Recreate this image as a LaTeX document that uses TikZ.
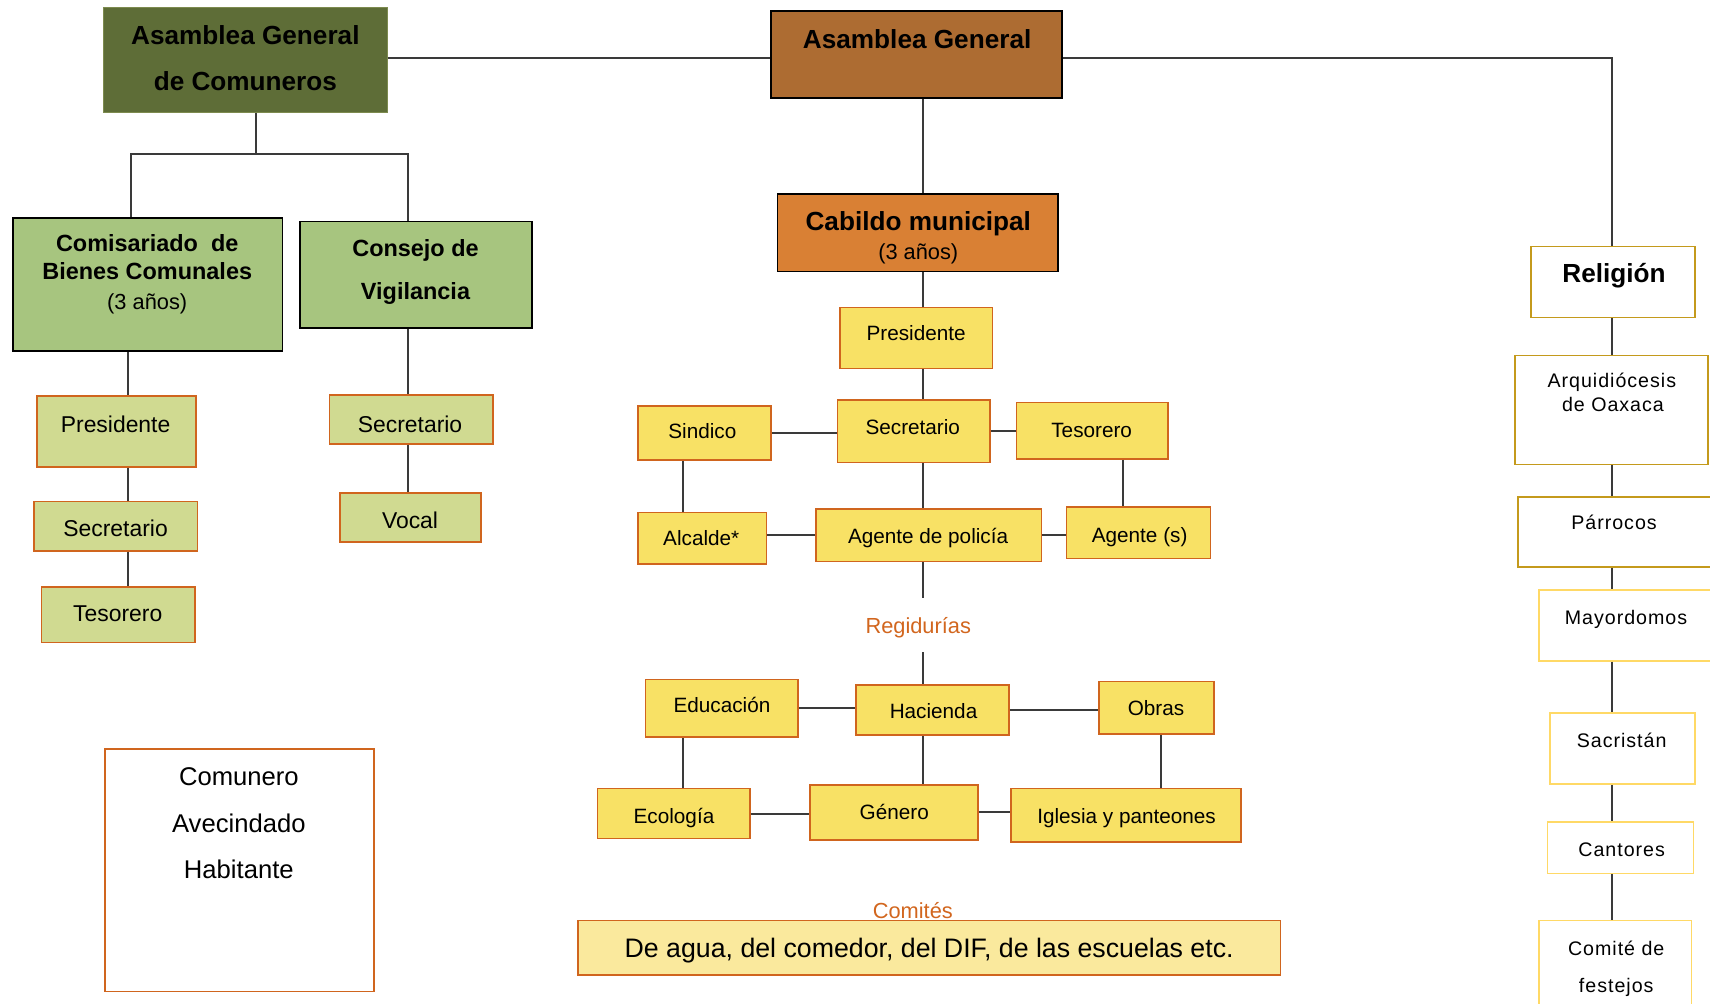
\documentclass[tikz,border=0pt]{standalone}
\usepackage{fontspec}
\setmainfont{Liberation Sans}
\newfontfamily\spacedfont[LetterSpace=5]{Liberation Sans}
\definecolor{cOlive}{HTML}{5E6D37}
\definecolor{cOliveB}{HTML}{7D8B4F}
\definecolor{cBrown}{HTML}{AD6C32}
\definecolor{cCab}{HTML}{D98034}
\definecolor{cGreen}{HTML}{A7C57F}
\definecolor{cPale}{HTML}{D0DA91}
\definecolor{cOrange}{HTML}{D0651E}
\definecolor{cYellow}{HTML}{F8E165}
\definecolor{cPaleY}{HTML}{FAE99D}
\definecolor{cGold}{HTML}{C49A1C}
\definecolor{cLGold}{HTML}{FFD966}
\definecolor{cLine}{HTML}{3A3A3A}
\definecolor{cOrText}{HTML}{D2661E}
\tikzset{
  boxbase/.style={rectangle, inner sep=0pt, line width=1.5pt},
  olivebox/.style={boxbase, fill=cOlive, draw=cOliveB, line width=1pt},
  brownbox/.style={boxbase, fill=cBrown, draw=black},
  cabbox/.style={boxbase, fill=cCab, draw=black},
  greenbox/.style={boxbase, fill=cGreen, draw=black},
  palebox/.style={boxbase, fill=cPale, draw=cOrange},
  ybox/.style={boxbase, fill=cYellow, draw=cOrange},
  cbox/.style={boxbase, fill=cPaleY, draw=cOrange},
  whitebox/.style={boxbase, fill=white, draw=cOrange},
  goldbox/.style={boxbase, fill=white, draw=cGold},
  lgoldbox/.style={boxbase, fill=white, draw=cLGold},
  txtbase/.style={inner sep=0pt, text height=1.05em, text depth=0pt, anchor=center, yshift=-3pt},
  tbig/.style={txtbase, font=\fontsize{24}{27}\selectfont\bfseries},
  tmid/.style={txtbase, font=\fontsize{21.5}{24}\selectfont\bfseries},
  treg/.style={txtbase, font=\fontsize{20}{23}\selectfont},
  tleft/.style={txtbase, font=\fontsize{21}{24}\selectfont},
  tsmall/.style={txtbase, font=\fontsize{19}{22}\selectfont},
  tcom/.style={txtbase, font=\fontsize{23.5}{26}\selectfont},
  tor/.style={txtbase, text=cOrText, font=\fontsize{20}{23}\selectfont},
  tright/.style={txtbase, font=\fontsize{18}{20}\spacedfont},
  conn/.style={draw=cLine, line width=1.8pt},
}
\begin{document}
\begin{tikzpicture}[x=1pt,y=-1pt]
\useasboundingbox (0,0) rectangle (1568,920);
\clip (0,0) rectangle (1568,920);
\fill[white] (0,0) rectangle (1568,920);
% column coordinates
\coordinate (topY) at (0,53);
\coordinate (fork) at (235,0);
\coordinate (forkY) at (0,141);
\coordinate (cA) at (120,0);
\coordinate (cL) at (117,0);
\coordinate (cC) at (374,0);
\coordinate (cM) at (846,0);
\coordinate (cS) at (626,0);
\coordinate (cT) at (1030,0);
\coordinate (cO) at (1065,0);
\coordinate (cR) at (1478,0);
\coordinate (regA) at (846,548);
\coordinate (regB) at (846,598);
% left boxes
\node[olivebox, minimum width=260, minimum height=96] (agc) at (225,55) {};
\node[greenbox, minimum width=247, minimum height=122] (comis) at (135.5,261) {};
\node[greenbox, minimum width=213, minimum height=98] (consej) at (381.5,252) {};
\node[palebox, minimum width=146, minimum height=65] (presL) at (107,395.5) {};
\node[palebox, minimum width=150, minimum height=45] (secL) at (106,482.5) {};
\node[palebox, minimum width=141, minimum height=51] (tesL) at (108.5,563.5) {};
\node[palebox, minimum width=150, minimum height=45] (secV) at (377,384.5) {};
\node[palebox, minimum width=129, minimum height=45] (vocal) at (376.5,474.5) {};
\node[whitebox, minimum width=247, minimum height=222] (comun) at (219.5,798) {};
% center boxes
\node[brownbox, minimum width=267, minimum height=80] (ag) at (840.5,50) {};
\node[cabbox, minimum width=257, minimum height=71] (cab) at (841.5,213.5) {};
\node[ybox, minimum width=140, minimum height=56] (presC) at (840,310) {};
\node[ybox, minimum width=140, minimum height=57] (secC) at (838,395.5) {};
\node[ybox, minimum width=122, minimum height=50] (sind) at (646,397) {};
\node[ybox, minimum width=139, minimum height=52] (tesC) at (1001.5,395) {};
\node[ybox, minimum width=118, minimum height=47] (alc) at (644,493.5) {};
\node[ybox, minimum width=207, minimum height=48] (agp) at (851.5,491) {};
\node[ybox, minimum width=132, minimum height=47] (ags) at (1044,488.5) {};
\node[ybox, minimum width=140, minimum height=53] (edu) at (662,649.5) {};
\node[ybox, minimum width=140, minimum height=46] (hac) at (855,651) {};
\node[ybox, minimum width=105, minimum height=48] (obr) at (1060.5,649) {};
\node[ybox, minimum width=140, minimum height=46] (eco) at (618,746) {};
\node[ybox, minimum width=154, minimum height=50] (gen) at (820,745) {};
\node[ybox, minimum width=211, minimum height=49] (igl) at (1032.5,747.5) {};
\node[cbox, minimum width=644, minimum height=50] (com) at (852,869) {};
% right boxes
\node[goldbox, minimum width=150, minimum height=65] (rel) at (1479,258.5) {};
\node[goldbox, minimum width=177, minimum height=100] (arq) at (1477.5,376) {};
\node[goldbox, minimum width=208, minimum height=64] (parr) at (1496,488) {};
\node[lgoldbox, minimum width=189, minimum height=65] (may) at (1505.5,573.5) {};
\node[lgoldbox, minimum width=133, minimum height=65] (sac) at (1487.5,686.5) {};
\node[lgoldbox, minimum width=134, minimum height=47] (cant) at (1486,777.5) {};
\node[lgoldbox, minimum width=140, minimum height=96] (fest) at (1481,892) {};
% connectors
\draw[conn] (agc.east |- topY) -- (ag.west |- topY);
\draw[conn] (ag.east |- topY) -| (rel.north -| cR);
\draw[conn] (agc.south -| fork) -- (fork |- forkY);
\draw[conn] (comis.north -| cA) |- (forkY -| cC) -- (consej.north -| cC);
\draw[conn] (comis.south -| cL) -- (presL.north -| cL);
\draw[conn] (presL.south -| cL) -- (secL.north -| cL);
\draw[conn] (secL.south -| cL) -- (tesL.north -| cL);
\draw[conn] (consej.south -| cC) -- (secV.north -| cC);
\draw[conn] (secV.south -| cC) -- (vocal.north -| cC);
\draw[conn] (ag.south -| cM) -- (cab.north -| cM);
\draw[conn] (cab.south -| cM) -- (presC.north -| cM);
\draw[conn] (presC.south -| cM) -- (secC.north -| cM);
\draw[conn] (secC.south -| cM) -- (agp.north -| cM);
\draw[conn] (agp.south -| cM) -- (regA);
\draw[conn] (regB) -- (hac.north -| cM);
\draw[conn] (hac.south -| cM) -- (gen.north -| cM);
\draw[conn] (sind.east) -- (secC.west |- sind.east);
\draw[conn] (secC.east) -- (tesC.west |- secC.east);
\draw[conn] (sind.south -| cS) -- (alc.north -| cS);
\draw[conn] (tesC.south -| cT) -- (ags.north -| cT);
\draw[conn] (agp.west) -- (alc.east |- agp.west);
\draw[conn] (agp.east) -- (ags.west |- agp.east);
\draw[conn] (edu.east) -- (hac.west |- edu.east);
\draw[conn] (hac.east) -- (obr.west |- hac.east);
\draw[conn] (edu.south -| cS) -- (eco.north -| cS);
\draw[conn] (obr.south -| cO) -- (igl.north -| cO);
\draw[conn] (eco.east) -- (gen.west |- eco.east);
\draw[conn] (gen.east) -- (igl.west |- gen.east);
\draw[conn] (rel.south -| cR) -- (arq.north -| cR);
\draw[conn] (arq.south -| cR) -- (parr.north -| cR);
\draw[conn] (parr.south -| cR) -- (may.north -| cR);
\draw[conn] (may.south -| cR) -- (sac.north -| cR);
\draw[conn] (sac.south -| cR) -- (cant.north -| cR);
\draw[conn] (cant.south -| cR) -- (fest.north -| cR);
% texts
\node[tbig] (agcT1) at (225,33) {Asamblea General};
\node[tbig] (agcT2) at (225,75) {de Comuneros};
\node[tmid] (comT1) at (135,222) {Comisariado\ \ de};
\node[tmid] (comT2) at (135,248) {Bienes Comunales};
\node[treg] (comT3) at (135,276) {(3 años)};
\node[tmid] (conT1) at (381,227) {Consejo de};
\node[tmid] (conT2) at (381,266) {Vigilancia};
\node[tleft] (presLT) at (106,388) {Presidente};
\node[tleft] (secLT) at (106,484) {Secretario};
\node[tleft] (tesLT) at (108,562) {Tesorero};
\node[tleft] (secVT) at (376,388) {Secretario};
\node[tleft] (vocalT) at (376,476) {Vocal};
\node[tcom] (comunT1) at (219,712) {Comunero};
\node[tcom] (comunT2) at (219,755) {Avecindado};
\node[tcom] (comunT3) at (219,797) {Habitante};
\node[tbig] (agT) at (841,36) {Asamblea General};
\node[tbig] (cabT1) at (842,203) {Cabildo municipal};
\node[treg] (cabT2) at (842,230) {(3 años)};
\node[tsmall] (presCT) at (840,304) {Presidente};
\node[tsmall] (secCT) at (837,390) {Secretario};
\node[tsmall] (sindT) at (644,394) {Sindico};
\node[tsmall] (tesCT) at (1001,393) {Tesorero};
\node[tsmall] (alcT) at (643,492) {Alcalde*};
\node[tsmall] (agpT) at (851,490) {Agente de policía};
\node[tsmall] (agsT) at (1045,489) {Agente (s)};
\node[tor] (regT) at (842,573) {Regidurías};
\node[tsmall] (eduT) at (662,645) {Educación};
\node[tsmall] (hacT) at (856,651) {Hacienda};
\node[tsmall] (obrT) at (1060,648) {Obras};
\node[tsmall] (ecoT) at (618,747) {Ecología};
\node[tsmall] (genT) at (820,743) {Género};
\node[tsmall] (iglT) at (1033,747) {Iglesia y panteones};
\node[tor] (comitT) at (837,834) {Comités};
\node[txtbase, font=\fontsize{24.5}{28}\selectfont] (comT) at (852,870) {De agua, del comedor, del DIF, de las escuelas etc.};
\node[tbig] (relT) at (1480,251) {Religión};
\node[tright] (arqT1) at (1478,347) {Arquidiócesis};
\node[tright] (arqT2) at (1479,369) {de Oaxaca};
\node[tright] (parrT) at (1480,477) {Párrocos};
\node[tright] (mayT) at (1491,564) {Mayordomos};
\node[tright] (sacT) at (1487,677) {Sacristán};
\node[tright] (cantT) at (1487,777) {Cantores};
\node[tright] (festT1) at (1482,868) {Comité de};
\node[tright] (festT2) at (1482,902) {festejos};
\end{tikzpicture}
\end{document}
